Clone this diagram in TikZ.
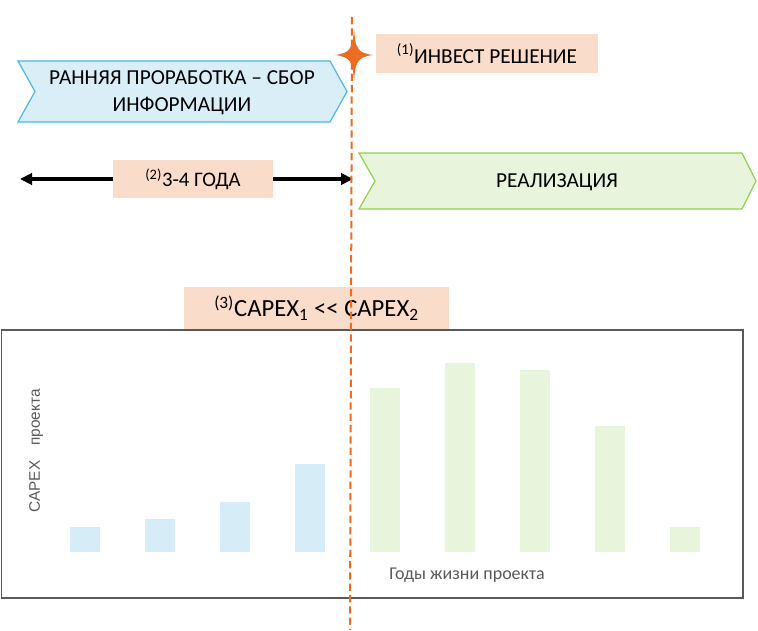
\documentclass[tikz,border=0pt]{standalone}
\usepackage{fontspec}
\setmainfont{Carlito}
\newfontfamily\axisfont{Liberation Sans}
\usetikzlibrary{arrows.meta}
\definecolor{decorange}{RGB}{236,108,34}
\definecolor{notepeach}{RGB}{250,220,203}
\definecolor{earlyblue}{RGB}{218,238,248}
\definecolor{earlyline}{RGB}{75,184,232}
\definecolor{implgreen}{RGB}{232,245,220}
\definecolor{implline}{RGB}{146,208,80}
\definecolor{barblue}{RGB}{214,237,248}
\definecolor{bargreen}{RGB}{232,245,220}
\definecolor{framegray}{RGB}{89,89,89}

\begin{document}
\begin{tikzpicture}[x=0.75pt,y=-0.75pt,
  notebox/.style={fill=notepeach, inner sep=0pt},
  phasetext/.style={font=\fontsize{16}{19}\selectfont, align=center, text=black},
  axislabel/.style={text=framegray}]
\useasboundingbox (0,0) rectangle (758,631);
% Chart frame
\draw[framegray, line width=1.1pt] (1.5,330) rectangle (743,598);
% Bars: early study (blue), realization (green)
\foreach \i/\h in {0/527, 1/519, 2/502, 3/464} {
  \fill[barblue] ({70+\i*75}, 552) rectangle ({100+\i*75}, \h);
}
\foreach \i/\h in {4/388, 5/363, 6/370, 7/426, 8/527} {
  \fill[bargreen] ({70+\i*75}, 552) rectangle ({100+\i*75}, \h);
}
\node[axislabel, font=\axisfont\fontsize{11.5}{13}\selectfont, rotate=90] (ylab) at (36,451) {CAPEX\quad проекта};
\node[axislabel, font=\fontsize{13.5}{15}\selectfont] (xlab) at (467,575) {Годы жизни проекта};
% Early study chevron
\filldraw[fill=earlyblue, draw=earlyline, line width=0.9pt]
  (18,61) -- (330,61) -- (347,91.5) -- (330,122) -- (18,122) -- (35,91.5) -- cycle;
\node[phasetext, font=\fontsize{16}{20.5}\selectfont] (early) at (182,93) {РАННЯЯ ПРОРАБОТКА – СБОР\\ИНФОРМАЦИИ};
% Realization chevron
\filldraw[fill=implgreen, draw=implline, line width=0.9pt]
  (359,153) -- (742,153) -- (756,181) -- (742,209) -- (359,209) -- (375,181) -- cycle;
\node[phasetext] (impl) at (557,182) {РЕАЛИЗАЦИЯ};
% Notes
\node[notebox, minimum width=166.5pt, minimum height=29.25pt, font=\fontsize{16}{18}\selectfont] (invest) at (487,53.5) {\textsuperscript{(1)}ИНВЕСТ РЕШЕНИЕ};
\node[notebox, minimum width=120pt, minimum height=28.5pt, font=\fontsize{15.5}{18}\selectfont] (years) at (193,179) {\textsuperscript{(2)}3-4 ГОДА};
\node[notebox, minimum width=198.75pt, minimum height=31.5pt, font=\fontsize{18.5}{21}\selectfont] (capex) at (316.5,308) {\textsuperscript{(3)}CAPEX\textsubscript{1} <{}< CAPEX\textsubscript{2}};
% Duration arrow
\coordinate (arL) at (20,179);
\coordinate (arR) at (353,179);
\draw[line width=2.3pt, -{Triangle[length=9pt, width=8.5pt]}] (years.west) -- (arL);
\draw[line width=2.3pt, -{Triangle[length=9pt, width=8.5pt]}] (years.east) -- (arR);
% Decision line
\draw[decorange, line width=1.5pt, dash pattern=on 5.5pt off 3pt] (352,17) -- (350,630);
% Star
\fill[decorange] (354,29) .. controls (355.5,48) and (357,53) .. (373,55)
  .. controls (357,57) and (355.5,62) .. (354,81)
  .. controls (352.5,62) and (351,57) .. (335,55)
  .. controls (351,53) and (352.5,48) .. (354,29) -- cycle;
\end{tikzpicture}
\end{document}
